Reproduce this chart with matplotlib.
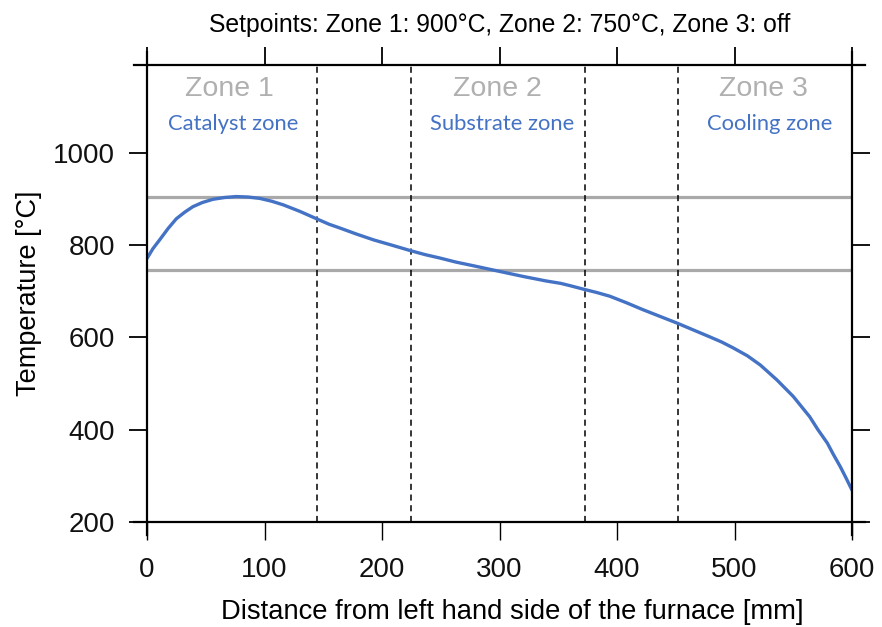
import matplotlib
matplotlib.use("Agg")
import matplotlib.pyplot as plt

# Data
distance_mm = [0, 5, 11, 18, 25, 32, 39, 47, 56, 66, 76, 86, 96, 106, 116, 123, 130, 138,
               146, 155, 164, 178, 193, 208, 224, 237, 249, 263, 278, 298, 320, 340, 352,
               360, 372, 383, 394, 408, 422, 437, 451, 465, 479, 489, 499, 511, 522, 529,
               536, 543, 550, 557, 564, 571, 579, 584, 590, 595, 600]
temperature_c = [771, 792, 812, 836, 857, 871, 883, 892, 899, 903, 905, 904, 901, 895, 887,
                 880, 873, 864, 855, 845, 837, 824, 811, 800, 788, 779, 772, 763, 755, 744,
                 732, 722, 717, 712, 704, 697, 689, 675, 660, 645, 631, 616, 601, 590, 577,
                 560, 540, 524, 508, 490, 472, 450, 428, 400, 371, 347, 320, 295, 269]
setpoints = [905, 745]
zone_bounds = [145, 225, 373, 452]
zone_names = ["Zone 1", "Zone 2", "Zone 3"]
zone_name_x = [70, 298, 525]
zone_desc = ["Catalyst zone", "Substrate zone", "Cooling zone"]
zone_desc_x = [73, 302, 530]
xticks = [0, 100, 200, 300, 400, 500, 600]
yticks = [200, 400, 600, 800, 1000]

plt.rcParams['font.family'] = ['Liberation Sans', 'DejaVu Sans']

fig = plt.figure(figsize=(8.82, 6.27), dpi=100)
ax = fig.add_axes([147/882, 1-522/627, (852-147)/882, (522-65)/627])

for y in setpoints:
    ax.axhline(y, color='#a9a9a9', lw=2.3, zorder=1)
for x in zone_bounds:
    ax.axvline(x, color='black', lw=1.1, ls=(0, (4, 3)), zorder=2)

ax.plot(distance_mm, temperature_c, color='#4472C4', lw=2.4, zorder=3,
        solid_joinstyle='round', solid_capstyle='round')

for name, x in zip(zone_names, zone_name_x):
    ax.text(x, 1139, name, color='#b0b0b0', fontsize=20.5, ha='center', va='center')
for name, x in zip(zone_desc, zone_desc_x):
    ax.text(x, 1063, name, color='#4472C4', fontsize=15.8, ha='center', va='center',
            family=['Lato', 'DejaVu Sans'])

ax.set_xlim(0, 600)
ax.set_ylim(200, 1190)
ax.set_xticks(xticks)
ax.set_yticks(yticks)

for s in ax.spines.values():
    s.set_visible(False)
ex = 13/705
ey = 13/457
kw = dict(transform=ax.transAxes, clip_on=False, color='black', lw=1.6, zorder=5)
ax.plot([-ex, 1+ex], [0, 0], **kw)
ax.plot([-ex, 1+ex], [1, 1], **kw)
ax.plot([0, 0], [-ey, 1+ey], **kw)
ax.plot([1, 1], [-ey, 1+ey], **kw)

ax.tick_params(axis='both', direction='out', labelsize=20, length=13, width=1.3,
               labelcolor='#111111')
ax.tick_params(axis='x', top=True, bottom=True, pad=12)
ax.tick_params(axis='y', left=True, right=True, pad=10, colors='black', labelcolor='#111111')
for t in ax.xaxis.get_major_ticks():
    t.tick1line.set_color('#8c8c8c')
    t.tick1line.set_markeredgewidth(1.0)
    t.tick2line.set_color('black')
    t.tick2line.set_markeredgewidth(1.3)

ax.set_xlabel("Distance from left hand side of the furnace [mm]", fontsize=19.7, labelpad=11)
ax.xaxis.set_label_coords(0.518, -0.168)
ax.set_ylabel("Temperature [°C]", fontsize=19.5, labelpad=8)
ax.set_title("Setpoints: Zone 1: 900°C, Zone 2: 750°C, Zone 3: off", fontsize=17.8, pad=24)

fig.savefig("out.png", dpi=100)
